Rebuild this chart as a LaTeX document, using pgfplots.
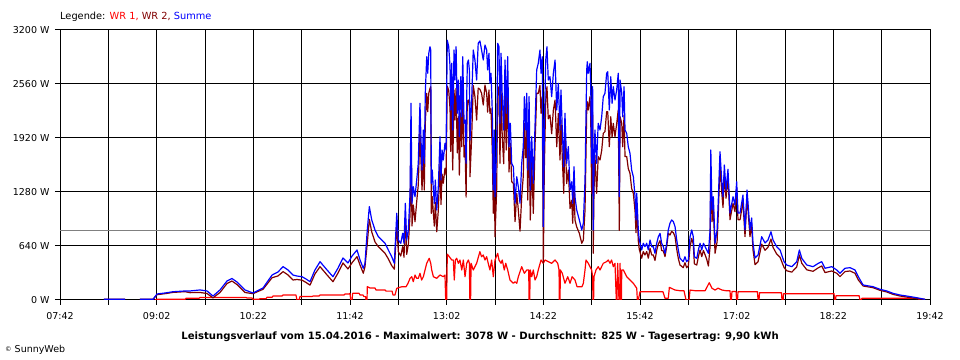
\documentclass[border=0pt]{standalone}
\usepackage{fontspec}
\setmainfont{DejaVu Sans}
\usepackage{pgfplots}
\usepackage{pgfplotstable}
\pgfplotsset{compat=1.18}
\definecolor{wrA}{RGB}{255,0,0}
\definecolor{wrB}{RGB}{128,0,0}
\definecolor{sumC}{RGB}{0,0,255}
\definecolor{avgC}{RGB}{128,128,128}

% WR 2 and Summe (W), time in minutes after midnight
\pgfplotstableread{
t wr2 sum
498.4 8 8
515.8 8 8
nan nan nan
528.2 8 8
539.0 8 8
542.3 63 71
548.9 75 83
555.5 90 98
565.5 99 107
569.6 87 107
577.9 89 119
583.7 77 107
588.6 25 47
594.4 89 119
600.2 195 225
604.3 225 255
608.5 183 213
615.1 89 119
621.7 75 83
630.0 127 142
637.5 264 296
642.4 285 332
646.6 336 395
650.7 297 356
654.8 237 296
658.1 243 284
662.3 235 276
665.6 208 249
668.9 176 217
673.0 309 356
677.2 395 454
683.0 297 356
687.9 217 276
692.1 320 379
696.2 439 498
700.3 368 439
703.7 442 521
707.8 514 593
710.3 415 474
713.0 317 376
714.4 395 435
716.3 672 830
718.0 956 1106
720.0 806 948
722.7 688 830
725.5 631 750
728.3 592 711
731.0 553 672
733.7 488 593
736.5 408 513
738.7 365 435
740.7 889 1028
742.0 572 711
744.0 522 672
745.6 633 791
746.7 507 672
747.8 981 1146
748.9 541 711
750.3 660 830
751.7 1008 1265
752.5 2061 2331
753.3 876 1146
754.4 1126 1343
755.8 928 1224
757.2 1165 1422
758.5 1363 1620
759.9 2015 2331
760.7 1665 1935
761.6 1304 1541
762.7 1739 2015
763.5 1304 1620
764.3 2094 2450
765.5 2449 2884
766.3 2232 2687
767.2 2450 2924
768.2 2508 3002
768.8 2528 2963
769.3 1027 1383
770.1 1225 1541
771.0 1028 1304
771.8 876 1146
772.6 1157 1422
773.8 810 1067
775.1 1067 1343
776.5 1639 1935
777.3 1132 1422
778.2 1493 1778
779.2 1383 1659
780.6 1561 1857
781.5 1482 1778
782.5 2535 3078
783.7 2482 3002
784.8 2265 2765
785.3 1762 2252
786.2 2331 2805
787.0 1541 2015
788.1 2489 2963
788.9 2133 2607
789.8 2508 3002
790.8 1743 2213
791.7 2172 2607
792.5 1480 1935
793.7 2217 2647
794.5 1816 2172
795.3 2464 2884
796.4 1694 2094
797.2 1833 2133
798.1 1220 1620
798.6 1975 2410
799.1 2355 2805
800.0 2370 2844
800.8 2291 2726
801.3 1461 1896
802.7 1935 2370
804.0 2543 2963
805.4 2409 2844
806.8 2133 2607
808.1 2512 3042
809.5 2497 3070
810.9 2450 2963
812.3 2311 2844
813.7 2548 3022
815.1 2450 2963
815.9 2226 2726
817.0 2489 2924
817.8 2212 2568
818.7 2267 2687
819.8 1739 2213
820.6 1028 1304
821.4 1615 2015
822.0 750 1224
823.4 1317 1817
824.2 2489 3042
825.3 2528 3002
826.1 1620 2094
827.0 2489 2924
828.0 1936 2410
829.2 1615 2015
830.3 2488 2844
831.3 1778 2213
832.5 2528 2884
833.6 1517 1817
834.7 1857 2094
835.8 1403 1620
837.2 1382 1580
838.6 929 1146
840.0 1263 1461
841.3 1067 1343
842.7 816 1146
844.1 1225 1620
845.4 1467 1817
846.3 2094 2410
847.4 1685 2015
848.3 2094 2450
849.1 1185 1541
850.2 2054 2410
851.2 948 1304
852.4 1635 1935
853.7 1027 1383
855.1 1817 2054
856.5 2450 2726
857.8 2449 2805
859.2 2543 2963
860.1 2213 2687
861.1 2410 2884
862.0 434 869
862.8 1541 2015
864.0 2370 2844
865.0 2528 3002
866.1 2147 2607
867.5 2192 2647
868.9 1970 2410
870.3 2252 2687
871.7 2370 2844
873.1 1817 2252
874.4 2212 2568
875.8 1659 2015
876.6 2133 2489
877.7 1685 2015
878.9 1264 1580
879.9 2015 2213
881.3 1380 1620
882.7 1541 1817
884.1 1084 1304
885.5 1182 1402
886.3 909 1146
887.4 1343 1580
888.2 948 1224
889.6 867 1067
891.8 790 948
893.8 672 830
895.1 711 909
896.5 1066 1422
897.9 2252 2726
898.4 2350 2824
899.2 2252 2687
900.6 2410 2805
901.2 2188 2568
902.0 1264 1620
902.8 2228 2528
903.3 554 830
903.9 1265 1541
904.7 1715 2015
906.1 1264 1620
907.4 1699 2094
908.9 1659 2015
910.3 1772 2172
911.6 1975 2410
913.0 1995 2450
914.4 2232 2687
915.3 2232 2706
916.6 1817 2252
917.8 2173 2647
918.9 1931 2331
919.9 2093 2528
921.3 1935 2370
922.7 2089 2489
924.0 2252 2687
924.9 824 1224
925.5 2172 2607
926.9 2094 2450
927.7 1816 2172
928.8 2188 2528
929.6 1699 2015
931.0 1700 1976
932.3 1557 1817
933.7 1502 1739
935.1 1321 1541
936.5 1263 1461
937.9 1054 1224
938.7 798 948
939.3 1126 1265
940.6 700 830
941.4 601 711
943.4 495 593
944.7 574 672
946.1 534 632
947.5 574 672
948.9 495 593
950.3 613 711
951.7 534 632
953.0 534 632
954.4 468 553
955.8 587 672
957.2 665 750
958.6 705 790
959.9 587 672
961.3 582 632
962.7 514 553
964.1 633 672
965.4 791 830
966.8 770 909
968.2 813 948
969.6 798 928
971.0 751 869
972.4 601 711
973.7 493 593
975.1 415 494
977.8 383 454
979.2 442 513
980.6 383 454
982.0 403 474
983.4 631 750
984.8 730 830
986.1 660 750
987.0 428 513
989.0 415 494
990.3 514 593
991.7 593 672
993.1 514 593
994.5 587 672
995.9 534 632
997.2 483 593
998.6 403 553
1000.0 632 830
1000.6 1580 1778
1001.6 928 1067
1002.7 1094 1224
1004.1 553 672
1005.8 690 830
1006.8 1027 1185
1008.2 1608 1758
1009.6 1282 1422
1010.7 1097 1224
1011.8 1480 1600
1013.2 1206 1304
1014.8 1459 1549
1016.5 952 1031
1019.0 1145 1224
1020.6 1047 1126
1022.0 1323 1402
1023.1 952 1031
1024.8 952 1031
1027.2 1165 1244
1028.9 751 830
1030.6 1225 1304
1033.0 751 830
1034.4 893 972
1035.5 597 676
1037.2 419 498
1039.7 454 533
1042.7 663 750
1045.5 589 676
1047.9 624 711
1050.4 722 809
1052.1 624 711
1055.1 545 632
1057.9 506 593
1061.2 386 454
1063.4 347 415
1067.6 330 395
1071.7 392 454
1073.9 534 593
1075.9 435 494
1080.0 358 415
1085.2 340 395
1089.6 382 435
1092.4 403 454
1095.1 325 376
1100.7 344 395
1104.8 317 356
1107.5 277 316
1111.7 337 376
1115.8 344 383
1119.9 317 356
1122.7 237 276
1126.6 166 178
1134.8 146 158
1140.6 115 127
1146.2 95 107
1151.4 67 79
1157.2 47 59
1162.7 35 47
1171.0 15 27
1177.9 8 8
}\sumtable

% WR 1 (W)
\pgfplotstableread{
t w
540.6 0
542.3 8
565.5 8
566.3 20
577.0 20
577.9 30
615.9 30
616.8 24
620.9 24
621.7 8
626.7 8
627.5 15
632.5 15
633.3 32
637.5 32
638.3 47
645.7 47
646.6 59
657.3 59
658.1 0
659.8 0
660.6 41
670.6 41
671.4 47
676.3 47
677.2 59
697.0 59
697.9 71
701.2 71
702.0 79
702.6 0
703.7 0
704.2 79
709.5 79
710.3 59
712.8 59
713.6 40
714.9 40
715.3 0
716.1 0
716.3 158
718.6 142
722.7 142
723.5 119
731.0 119
731.8 105
736.8 105
737.6 59
739.2 59
740.7 139
745.0 158
748.4 158
750.0 198
751.7 257
753.1 276
754.4 217
755.8 296
757.2 257
758.5 257
759.9 316
761.3 237
762.7 276
764.1 356
765.5 435
766.8 474
767.6 494
768.8 435
769.6 356
771.0 276
773.8 257
776.5 296
779.2 276
780.6 296
781.2 0
782.0 0
782.5 543
784.2 513
786.2 474
787.5 474
788.3 237
789.2 474
790.3 494
791.7 435
793.0 474
794.5 356
795.8 474
797.2 276
798.6 435
800.0 474
800.8 435
801.2 0
801.8 0
802.2 435
804.0 356
806.8 435
809.5 573
810.9 513
812.3 533
813.7 474
815.1 513
816.4 435
817.8 356
819.2 474
820.6 276
822.0 474
824.2 553
825.3 474
827.0 435
828.0 474
829.7 356
830.9 435
832.5 356
834.4 237
835.8 217
837.2 198
838.6 217
840.0 198
841.3 276
844.1 395
846.3 316
848.3 356
849.9 356
850.2 0
850.7 0
851.2 356
852.4 276
853.7 356
855.1 237
856.5 276
857.8 356
860.1 474
862.0 435
863.4 474
866.1 455
868.9 435
871.7 474
873.9 435
875.0 356
875.2 0
875.8 0
876.1 356
877.7 316
879.9 198
882.2 276
884.1 198
885.8 276
888.2 237
889.9 158
894.0 158
895.1 198
896.5 356
897.3 474
899.2 435
900.6 395
902.0 356
902.8 276
903.1 0
903.6 0
903.9 276
905.6 356
907.4 395
908.9 356
911.6 435
914.4 455
915.7 474
917.2 435
918.5 474
919.9 395
921.3 435
922.4 0
922.9 0
923.5 435
924.6 0
925.2 0
925.5 435
926.0 0
926.6 0
926.9 356
928.2 356
931.0 276
933.7 237
936.5 198
939.3 139
939.8 0
940.6 0
942.0 98
961.0 98
962.7 20
965.4 20
966.3 150
971.0 118
975.1 110
978.4 110
980.1 0
982.6 0
983.4 118
987.6 110
991.7 110
995.9 110
999.3 205
1001.6 139
1004.1 118
1006.6 140
1009.9 118
1013.2 110
1016.5 110
1016.9 0
1017.7 0
1018.1 100
1021.5 100
1021.9 0
1022.7 0
1023.1 98
1039.2 98
1039.7 0
1040.5 0
1040.9 87
1059.1 87
1059.5 0
1060.4 0
1060.8 75
1091.0 75
1102.6 75
1103.0 0
1103.8 0
1104.2 51
1123.3 51
1124.1 0
1124.9 0
1125.7 20
1172.1 20
1173.7 0
}\wrAtable

\begin{document}
\begin{tikzpicture}
\path[use as bounding box] (0,0) rectangle (960bp,360bp);
\begin{axis}[
  at={(60bp,60bp)}, anchor=south west,
  scale only axis, width=870bp, height=270bp,
  xmin=462, xmax=1182, ymin=0, ymax=3200,
  xtick={462,502,...,1182},
  xticklabels={07:42,,09:02,,10:22,,11:42,,13:02,,14:22,,15:42,,17:02,,18:22,,19:42},
  ytick={0,640,1280,1920,2560,3200},
  yticklabels={0 W,640 W,1280 W,1920 W,2560 W,3200 W},
  xtick pos=bottom, ytick pos=left,
  grid=major,
  major grid style={black, line width=1bp},
  axis line style={black, line width=1bp},
  tick style={black, line width=1bp},
  tick align=outside, major tick length=5bp,
  ticklabel style={font=\fontsize{9.5bp}{11bp}\selectfont, text=black},
  xticklabel style={yshift=-4bp},
  yticklabel style={xshift=-2bp},
  unbounded coords=jump,
  clip=true,
]
\addplot[avgC, line width=1bp] coordinates {(462,825) (1182,825)};
\addplot[wrA, line width=1.2bp, line join=round] table[x=t,y=w]{\wrAtable};
\addplot[wrB, line width=1.2bp, line join=round] table[x=t,y=wr2]{\sumtable};
\addplot[sumC, line width=1.2bp, line join=round] table[x=t,y=sum]{\sumtable};
\end{axis}
\node[anchor=base west, inner sep=0pt, font=\fontsize{9.8bp}{11bp}\selectfont] at (60bp,340bp)
  {Legende: \textcolor{wrA}{WR 1,} \textcolor{wrB}{WR 2,} \textcolor{sumC}{Summe}};
\node[anchor=base, inner sep=0pt, font=\fontsize{10.1bp}{12bp}\selectfont\bfseries] at (480bp,20.5bp)
  {Leistungsverlauf vom 15.04.2016 - Maximalwert: 3078 W - Durchschnitt: 825 W - Tagesertrag: 9,90 kWh};
\node[anchor=base west, inner sep=0pt, font=\fontsize{9.5bp}{11bp}\selectfont] at (5bp,7.5bp)
  {\raisebox{1bp}{\fontsize{6.5bp}{8bp}\selectfont\textcopyright} SunnyWeb};
\end{tikzpicture}
\end{document}
